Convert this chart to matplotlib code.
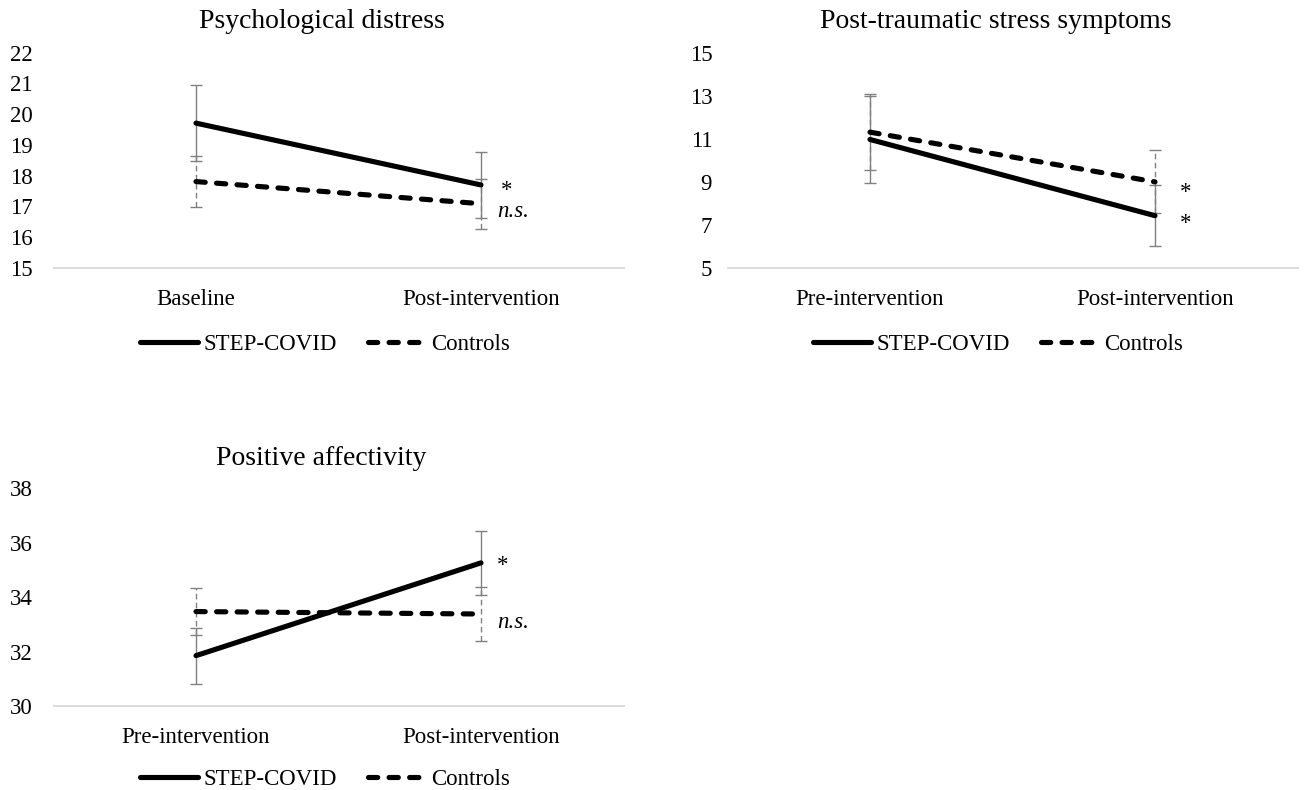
import matplotlib
matplotlib.use("Agg")
import matplotlib.pyplot as plt

plt.rcParams['font.family'] = ['Liberation Serif', 'DejaVu Serif']

# ---------------- data ----------------
titles = ["Psychological distress", "Post-traumatic stress symptoms", "Positive affectivity"]
categories = [["Baseline", "Post-intervention"],
              ["Pre-intervention", "Post-intervention"],
              ["Pre-intervention", "Post-intervention"]]
series_names = ["STEP-COVID", "Controls"]

step_vals = [[19.71, 17.70], [10.97, 7.43], [31.85, 35.26]]
step_err = [[1.23, 1.07], [2.00, 1.42], [1.03, 1.18]]
ctrl_vals = [[17.81, 17.09], [11.31, 9.00], [33.47, 33.38]]
ctrl_err = [[0.84, 0.81], [1.75, 1.46], [0.86, 1.00]]

y_limits = [(15, 22), (5, 15), (30, 38)]
y_ticks = [list(range(15, 23, 1)), list(range(5, 16, 2)), list(range(30, 39, 2))]

# significance labels for (STEP, Controls) at post-intervention
sig_labels = [("*", "n.s."), ("*", "*"), ("*", "n.s.")]

# ---------------- layout (pixels) ----------------
W, H = 1306, 790
fig = plt.figure(figsize=(W / 100, H / 100), dpi=100)

def rect(x0, x1, ytop, ybot):
    return [x0 / W, 1 - ybot / H, (x1 - x0) / W, (ybot - ytop) / H]

axes_px = [(53.5, 623.5, 52.7, 268.0),
           (727.5, 1297.5, 52.7, 268.0),
           (53.5, 623.5, 488.3, 706.0)]
title_px = [(321.5, 28.0), (996.0, 28.0), (321.5, 465.0)]
legend_px = [(325.0, 344.0), (998.0, 344.0), (325.0, 779.0)]
ylabel_pad = [15, 11, 15]
# annotation offsets in pixels relative to the post-intervention data points
# order: (STEP, Controls)
sig_offsets = [[(26, -6, 'center'), (16, -8, 'left')],
               [(31, -8, 'center'), (31, -11, 'center')],
               [(22, -3, 'center'), (16, -8, 'left')]]

GRAY = '#808080'
FS = 16.5

for i in range(3):
    ax = fig.add_axes(rect(*axes_px[i]))
    x = [0, 1]
    # error bars
    eb1 = ax.errorbar(x, step_vals[i], yerr=step_err[i], fmt='none', ecolor=GRAY,
                      elinewidth=1.0, capsize=4.5, capthick=1.0, zorder=2)
    eb2 = ax.errorbar(x, ctrl_vals[i], yerr=ctrl_err[i], fmt='none', ecolor=GRAY,
                      elinewidth=1.0, capsize=4.5, capthick=1.0, zorder=2)
    for c in eb2[2]:
        c.set_linestyle((0, (4, 2.5)))
    # lines
    l1, = ax.plot(x, step_vals[i], color='black', lw=3.7, solid_capstyle='round',
                  label=series_names[0], zorder=4)
    l2, = ax.plot(x, ctrl_vals[i], color='black', lw=3.7, dash_capstyle='round',
                  dashes=(1.8, 2.2), label=series_names[1], zorder=3)

    ax.set_xlim(-0.5, 1.5)
    ax.set_ylim(*y_limits[i])
    ax.set_yticks(y_ticks[i])
    ax.set_xticks(x)
    ax.set_xticklabels(categories[i])
    ax.tick_params(axis='both', length=0, labelsize=FS)
    ax.tick_params(axis='y', pad=ylabel_pad[i])
    ax.tick_params(axis='x', pad=15)
    for s in ['top', 'right', 'left']:
        ax.spines[s].set_visible(False)
    ax.spines['bottom'].set_color('#d9d9d9')
    ax.spines['bottom'].set_linewidth(1.3)
    ax.patch.set_alpha(0)

    # significance annotations
    for val, lab, (dx, dy, ha) in zip([step_vals[i][1], ctrl_vals[i][1]], sig_labels[i], sig_offsets[i]):
        style = 'italic' if lab != '*' else 'normal'
        ax.annotate(lab, xy=(1, val), xytext=(dx, dy), textcoords='offset pixels',
                    ha=ha, va='center', fontsize=FS, fontstyle=style, annotation_clip=False)

    # title
    tx, ty = title_px[i]
    fig.text(tx / W, 1 - ty / H, titles[i], ha='center', va='baseline', fontsize=20)

    # legend
    lx, ly = legend_px[i]
    ax.legend(handles=[l1, l2], loc='center', bbox_to_anchor=(lx / W, 1 - ly / H),
              bbox_transform=fig.transFigure, ncol=2, frameon=False, fontsize=FS,
              handlelength=2.5, handletextpad=0.25, columnspacing=1.35, borderpad=0)

fig.savefig('out.png', dpi=100)
